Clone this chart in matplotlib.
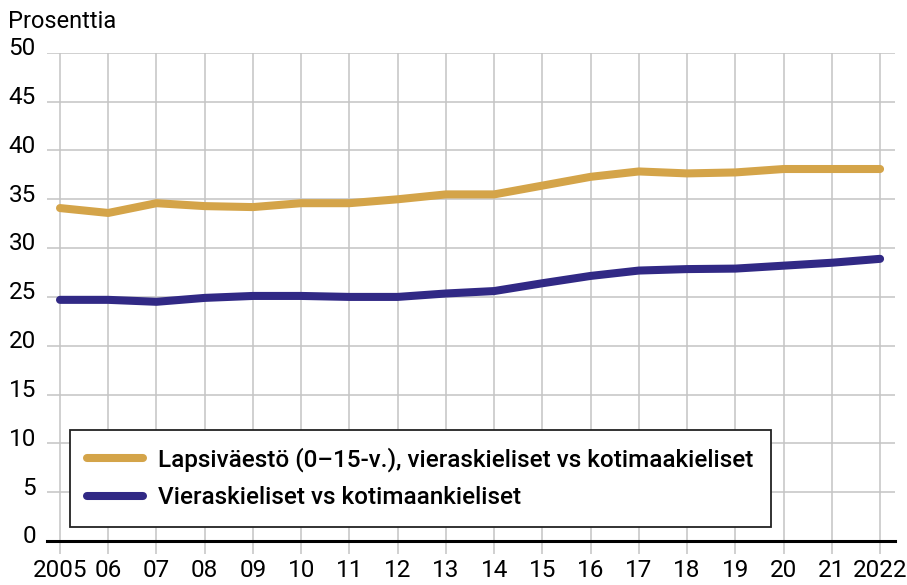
import matplotlib
matplotlib.use("Agg")
import matplotlib.pyplot as plt
import matplotlib.transforms as mtrans

years = list(range(2005, 2023))
tick_labels = ["2005", "06", "07", "08", "09", "10", "11", "12", "13", "14",
               "15", "16", "17", "18", "19", "20", "21", "2022"]
lapsi = [34.1, 33.6, 34.6, 34.3, 34.2, 34.6, 34.6, 35.0, 35.5, 35.5,
         36.4, 37.3, 37.85, 37.65, 37.75, 38.1, 38.1, 38.1]
vieras = [24.7, 24.7, 24.5, 24.9, 25.1, 25.1, 25.0, 25.0, 25.35, 25.6,
          26.4, 27.15, 27.7, 27.85, 27.9, 28.2, 28.5, 28.9]
label_lapsi = "Lapsiväestö (0–15-v.), vieraskieliset vs kotimaakieliset"
label_vieras = "Vieraskieliset vs kotimaankieliset"
yticks = list(range(0, 51, 5))

plt.rcParams['font.family'] = ['Roboto', 'DejaVu Sans']

fig = plt.figure(figsize=(9.07, 5.85), dpi=100)
ax = fig.add_axes([0.0518, 0.0752, 0.9350, 0.8345])

gold = "#D4A449"
blue = "#312985"
grid = "#c4c4c4"

ax.plot(years, lapsi, color=gold, lw=5.8, solid_capstyle="round",
        solid_joinstyle="round", label=label_lapsi, zorder=3)
ax.plot(years, vieras, color=blue, lw=5.8, solid_capstyle="round",
        solid_joinstyle="round", label=label_vieras, zorder=3)

ax.set_xlim(2004.73, 2022.31)
ax.set_ylim(0, 50)
ax.set_xticks(years)
ax.set_xticklabels(tick_labels)
ax.set_yticks(yticks)
ax.set_yticklabels([str(v) for v in yticks])

ax.grid(True, color=grid, lw=1.1, zorder=0)
for s in ["top", "right", "left"]:
    ax.spines[s].set_visible(False)
ax.spines["bottom"].set_color("black")
ax.spines["bottom"].set_linewidth(2.2)
ax.spines["bottom"].set_zorder(4)

ax.tick_params(axis="x", length=9, width=1.1, color=grid, labelsize=17.5, pad=4)
ax.tick_params(axis="y", length=0, labelsize=17.5, pad=8)
offset = mtrans.ScaledTranslation(0, 3 / 72, fig.dpi_scale_trans)
for lab in ax.get_yticklabels():
    lab.set_verticalalignment("center")
    lab.set_transform(lab.get_transform() + offset)

fig.text(8 / 907, 1 - 28 / 585, "Prosenttia", fontsize=17, ha="left", va="baseline")

leg = ax.legend(loc="lower left", bbox_to_anchor=(0.027, 0.0287), borderaxespad=0,
                fancybox=False, frameon=True, handlelength=2.3,
                handletextpad=0.6, labelspacing=0.6, borderpad=0.72,
                prop={"size": 17.5, "weight": "medium"})
leg.get_frame().set_edgecolor("#222222")
leg.get_frame().set_linewidth(1.3)
leg.get_frame().set_alpha(1)
leg.set_zorder(5)

fig.savefig("out.png", dpi=100)
